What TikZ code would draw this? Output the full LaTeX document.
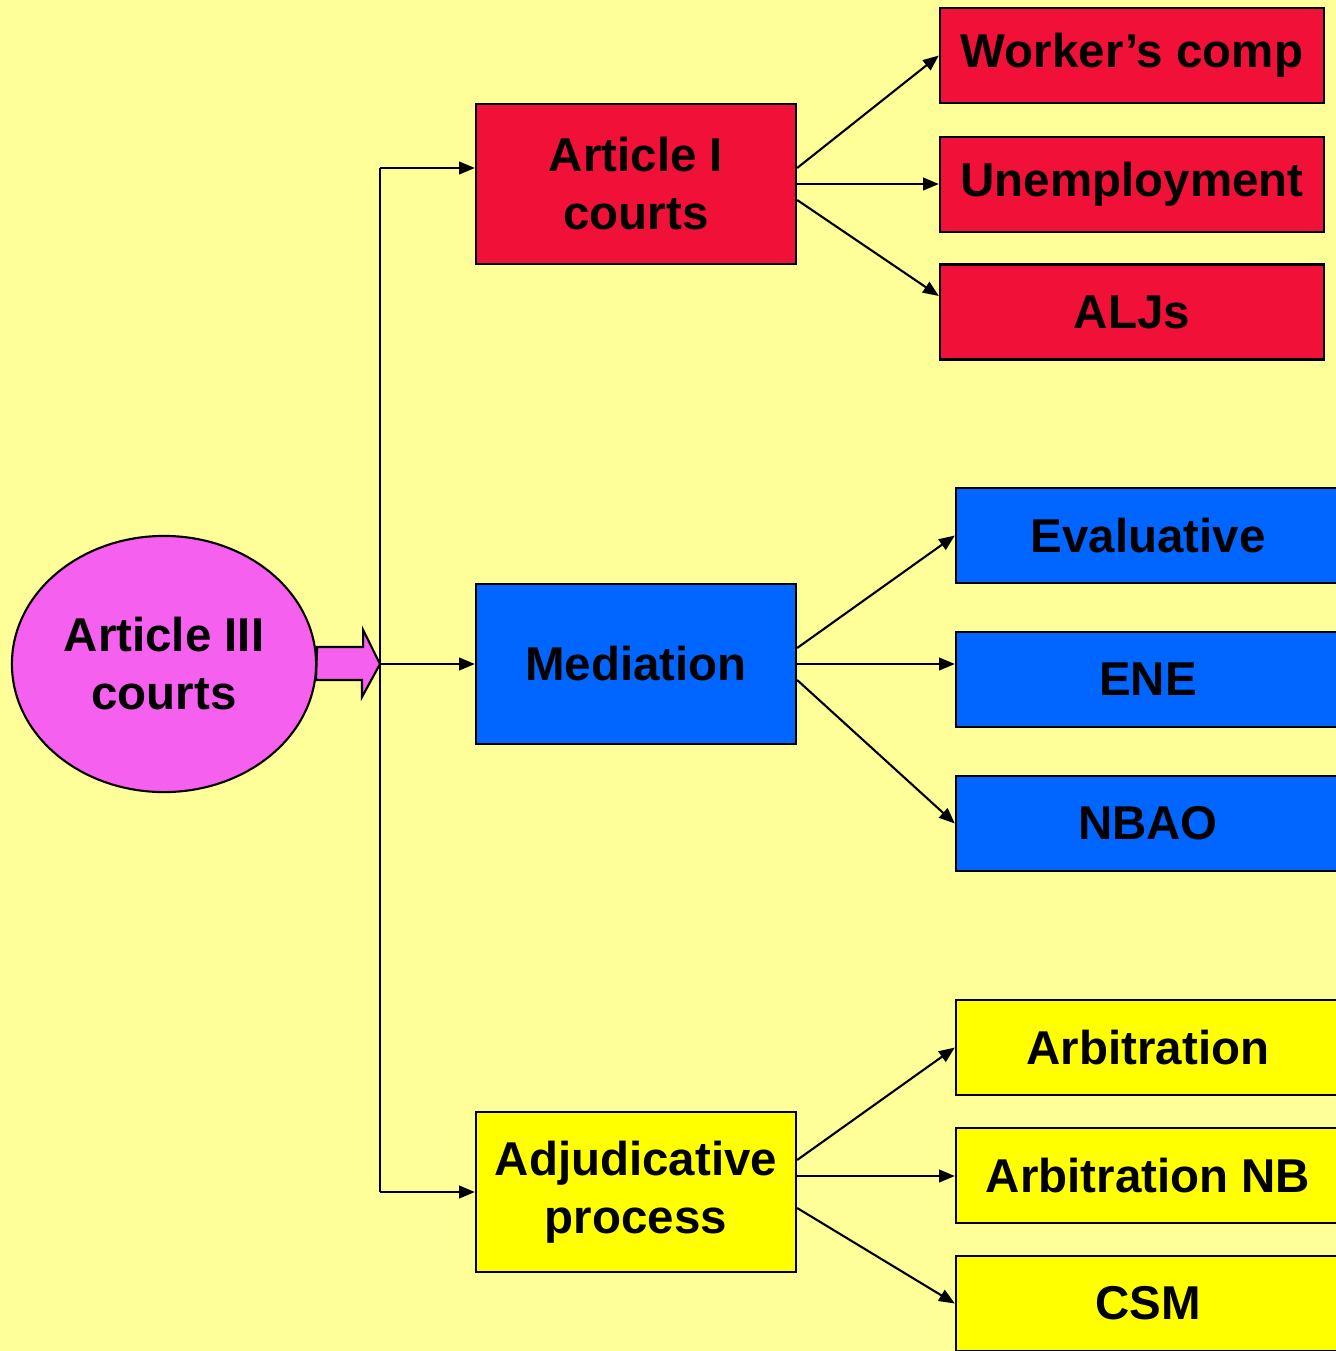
\documentclass[tikz,border=0pt]{standalone}
\usepackage{fontspec}
\setmainfont{Liberation Sans}
\usetikzlibrary{arrows.meta,shapes.geometric}
\definecolor{paleyellow}{RGB}{255,255,153}
\definecolor{courtred}{RGB}{240,16,56}
\definecolor{medblue}{RGB}{0,102,255}
\definecolor{adjyellow}{RGB}{255,255,0}
\definecolor{courtpink}{RGB}{246,96,238}
\begin{document}
\begin{tikzpicture}[x=0.01cm, y=-0.01cm,
		box/.style={draw, line width=0.6pt, minimum width=3.84cm, minimum height=0.95cm,
			inner sep=0pt, font=\fontsize{13.5}{16.5}\selectfont\bfseries},
		mid/.style={box, minimum width=3.2cm, minimum height=1.6cm, align=center},
		arr/.style={-{Triangle[length=4.5pt,width=3.6pt]}, line width=0.6pt}
		]
	\useasboundingbox (0,0) rectangle (1336,1351);
	\fill[paleyellow] (0,0) rectangle (1336,1351);
	\clip (0,0) rectangle (1336,1351);

	% root
	\node [ellipse, draw, line width=0.6pt, fill=courtpink, inner sep=0pt, minimum width=3.04cm,
		minimum height=2.56cm, align=center, font=\fontsize{13.5}{16.5}\selectfont\bfseries]
		(art3) at (164,664) {Article III\\courts};
	\draw [line width=0.6pt, fill=courtpink] (art3.east) ++(0,-17) -- ++(46,0) -- ++(0,-17) -- (380,664)
		-- (362,697) -- ++(0,-17) -- ++(-46,0) -- cycle;

	% middle level
	\node [mid, fill=courtred] (art1) at (636,184) {Article I\\courts};
	\node [mid, fill=medblue] (med) at (636,664) {Mediation};
	\node [mid, fill=adjyellow] (adj) at (636,1192) {Adjudicative\\process};

	% right level
	\node [box, fill=courtred] (wc) at (1132,55.5) {Worker’s comp};
	\node [box, fill=courtred] (unemp) at (1132,184.5) {Unemployment};
	\node [box, fill=courtred] (alj) at (1132,312) {ALJs};
	\node [box, fill=medblue] (eval) at (1148,535.5) {Evaluative};
	\node [box, fill=medblue] (ene) at (1148,679.5) {ENE};
	\node [box, fill=medblue] (nbao) at (1148,823.5) {NBAO};
	\node [box, fill=adjyellow] (arb) at (1148,1047.5) {Arbitration};
	\node [box, fill=adjyellow] (arbnb) at (1148,1175.5) {Arbitration NB};
	\node [box, fill=adjyellow] (csm) at (1148,1303.5) {CSM};

	% trunk
	\coordinate (ttop) at (380,168);
	\coordinate (tmid) at (380,664);
	\coordinate (tbot) at (380,1192);
	\draw [line width=0.6pt] (ttop) -- (tbot);
	\draw [arr] (ttop) -- (ttop -| art1.west);
	\draw [arr] (tmid) -- (tmid -| med.west);
	\draw [arr] (tbot) -- (tbot -| adj.west);

	% branches
	\draw [arr] ([yshift=0.16cm]art1.east) -- (wc.west);
	\draw [arr] (art1.east) -- (art1.east -| unemp.west);
	\draw [arr] ([yshift=-0.16cm]art1.east) -- ([yshift=0.16cm]alj.west);
	\draw [arr] ([yshift=0.16cm]med.east) -- (eval.west);
	\draw [arr] (med.east) -- (med.east -| ene.west);
	\draw [arr] ([yshift=-0.16cm]med.east) -- (nbao.west);
	\draw [arr] ([yshift=0.32cm]adj.east) -- (arb.west);
	\draw [arr] ([yshift=0.16cm]adj.east) -- ([yshift=0.16cm]adj.east -| arbnb.west);
	\draw [arr] ([yshift=-0.16cm]adj.east) -- (csm.west);
\end{tikzpicture}
\end{document}
